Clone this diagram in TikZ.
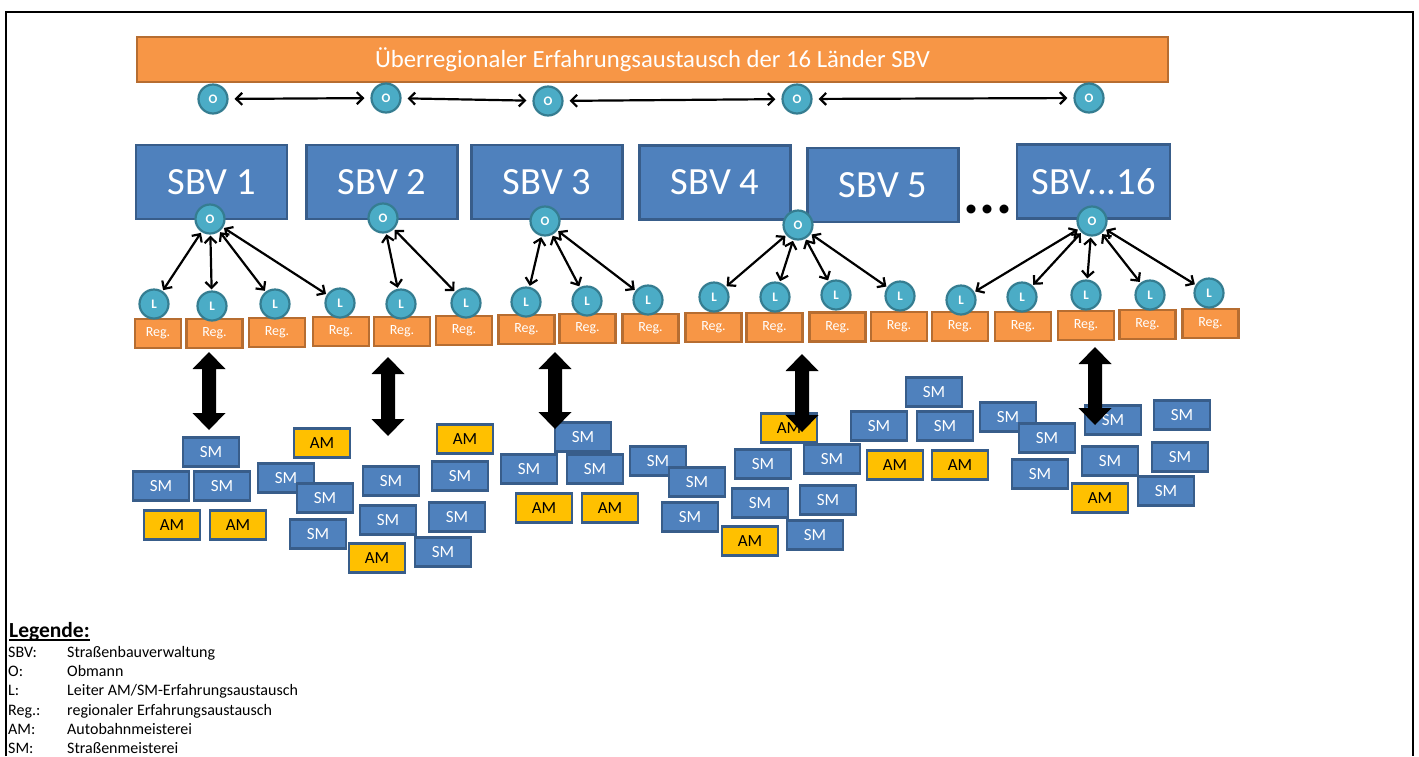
\documentclass[tikz,border=0pt]{standalone}
\usepackage{fontspec}
\setmainfont{Carlito}
\usetikzlibrary{arrows.meta}

\definecolor{sbvfill}{HTML}{4F81BD}
\definecolor{sbvedge}{HTML}{385D8A}
\definecolor{regfill}{HTML}{F79646}
\definecolor{regedge}{HTML}{B66D31}
\definecolor{personfill}{HTML}{4BACC6}
\definecolor{personedge}{HTML}{357D91}
\definecolor{amfill}{HTML}{FFC000}

\tikzset{
  titlebar/.style={draw=regedge, fill=regfill, line width=2.2pt, text=white,
    minimum width=1031, minimum height=45, inner sep=0,
    font=\fontsize{24.7}{28}\selectfont},
  sbvbox/.style={draw=sbvedge, fill=sbvfill, line width=2.2pt, text=white,
    minimum width=151, minimum height=74, inner sep=0,
    font=\fontsize{38.5}{40}\selectfont},
  person/.style={circle, draw=personedge, fill=personfill, line width=2.2pt,
    minimum size=29, inner sep=0, text=white,
    font=\fontsize{13}{14}\selectfont\bfseries},
  regbox/.style={draw=regedge, fill=regfill, line width=2.5pt, text=white,
    minimum width=56, minimum height=29, inner sep=0,
    font=\fontsize{14}{16}\selectfont},
  smbox/.style={draw=sbvedge, fill=sbvfill, line width=2.6pt, text=white,
    minimum width=56, minimum height=29, inner sep=0,
    font=\fontsize{17}{19}\selectfont},
  ambox/.style={draw=sbvedge, fill=amfill, line width=2.6pt, text=black,
    minimum width=56, minimum height=29, inner sep=0,
    font=\fontsize{17}{19}\selectfont},
  link/.style={line width=2.2pt, >={Straight Barb[length=6pt,width=12pt]}, <->},
  legtext/.style={anchor=base west, inner sep=0, font=\fontsize{16}{19}\selectfont},
}

\begin{document}
\begin{tikzpicture}[x=1pt, y=-1pt]
\useasboundingbox (0,0) rectangle (1419,756);

% outer frame, open at the bottom
\draw[line width=2.5pt] (6,756) -- (6,12) -- (1413,12) -- (1413,756);

% nationwide exchange bar
\node[titlebar] (top) at (652.5,59.5) {Überregionaler Erfahrungsaustausch der 16 Länder SBV};

% Obmänner in the nationwide exchange
\foreach \n/\x/\y in {t1/213/99, t2/386/98, t3/548/101, t4/797/99, t5/1089/98}
  \node[person] (\n) at (\x,\y) {O};
\foreach \a/\b in {t1/t2, t2/t3, t3/t4, t4/t5}
  \draw[link, shorten <=6pt, shorten >=6pt] (\a) -- (\b);

% road administrations
\node[sbvbox] (sbv1) at (211.5,182) {SBV 1};
\node[sbvbox] (sbv2) at (382,182) {SBV 2};
\node[sbvbox] (sbv3) at (547,182) {SBV 3};
\node[sbvbox] (sbv4) at (715,182.5) {SBV 4};
\node[sbvbox] (sbv5) at (883,185) {SBV 5};
\node[sbvbox, minimum width=153] (sbv16) at (1093.5,181.5) {SBV...16};
\node[anchor=base, inner sep=0, font=\fontsize{60}{60}\selectfont\bfseries] (dots) at (988,213) {...};

% Obmann of each administration
\foreach \n/\x/\y in {o1/210/219, o2/383/218, o3/545/221, o4/798/225, o5/1092/221}
  \node[person] (\n) at (\x,\y) {O};

% regional exchanges with their leaders
\foreach \i/\lx/\ly/\rx/\ry in {
   1/154/304/158/333.5, 2/212/306/214.5/333.5, 3/275/304/277/332.5,
   4/340/303/341/331.5, 5/401/304/402/331.5, 6/466/303/464/330.5,
   7/526/302/526.5/329.5, 8/587/301/587.5/328.5, 9/648/300/650.5/328.5,
   10/714/297/713.5/327.5, 11/775/297/774.5/327.5, 12/836/295/837.5/327,
   13/900/296/899/326.5, 14/961/300/960/326.5, 15/1022/297/1023/326.5,
   16/1086/295/1086/325.5, 17/1150/295/1147.5/324.5, 18/1209/293/1210.5/323.5}{
  \ifnum\i=1
    \node[regbox, minimum width=46] (reg\i) at (\rx,\ry) {Reg.};
  \else
    \node[regbox] (reg\i) at (\rx,\ry) {Reg.};
  \fi
  \node[person] (l\i) at (\lx,\ly) {L};
}

% Obmann <-> leaders
\foreach \o/\l in {o1/l1, o1/l2, o1/l3, o1/l4, o2/l5, o2/l6,
                   o3/l7, o3/l8, o3/l9, o4/l10, o4/l11, o4/l12, o4/l13,
                   o5/l14, o5/l15, o5/l16, o5/l17, o5/l18}
  \draw[link, shorten <=1pt, shorten >=1pt] (\o) -- (\l);

% maintenance depots
\foreach \kind/\x/\y [count=\i] in {
   s/211/452, s/161/486, s/222/486, a/172/525, a/238/525,
   a/322/443, s/286/478, s/325/498, s/318/534, a/377/558,
   s/391/481, s/388/520, s/443/552, a/465/439, s/460/476, s/457/517,
   s/583/437, s/529/469, s/595/469, a/544/508, a/610/508,
   s/658/461, s/697/482, s/690/517, a/750/541,
   a/789/428, s/763/464, s/760/503, s/815/535, s/832/459, s/828/500,
   s/934/392, s/879/426, s/945/426, a/895/465, a/960/465,
   s/1008/417, s/1047/438, s/1040/474, a/1100/498,
   s/1113/420, s/1110/461, s/1166/491, s/1182/415, s/1180/457}{
  \if\kind s
    \node[smbox] (depot\i) at (\x,\y) {SM};
  \else
    \node[ambox] (depot\i) at (\x,\y) {AM};
  \fi
}

% block arrows between regional exchanges and depots
\foreach \cx/\ta/\tb in {209/352/430, 388/357/436, 555/352/429, 802/354/432, 1095/347/425}
  \fill[black] (\cx,\ta) -- (\cx+16.5,\ta+17) -- (\cx+7,\ta+17) -- (\cx+7,\tb-17)
    -- (\cx+16.5,\tb-17) -- (\cx,\tb) -- (\cx-16.5,\tb-17) -- (\cx-7,\tb-17)
    -- (\cx-7,\ta+17) -- (\cx-16.5,\ta+17) -- cycle;

% legend
\node[anchor=base west, inner sep=0, font=\fontsize{21.5}{24}\selectfont\bfseries] (legtitle) at (9,637) {Legende:};
\draw[line width=1.6pt] ([yshift=-3pt]legtitle.base west) -- ([yshift=-3pt]legtitle.base east);
\foreach \k/\abbr/\desc [count=\j from 0] in {
   a/SBV:/Straßenbauverwaltung, b/O:/Obmann,
   c/L:/Leiter AM\slash SM-Erfahrungsaustausch,
   d/Reg.:/regionaler Erfahrungsaustausch,
   e/AM:/Autobahnmeisterei, f/SM:/Straßenmeisterei}{
  \node[legtext] (leg\k) at (8,657.5+19.2*\j) {\abbr};
  \node[legtext] (legd\k) at (67,657.5+19.2*\j) {\desc};
}
\end{tikzpicture}
\end{document}
